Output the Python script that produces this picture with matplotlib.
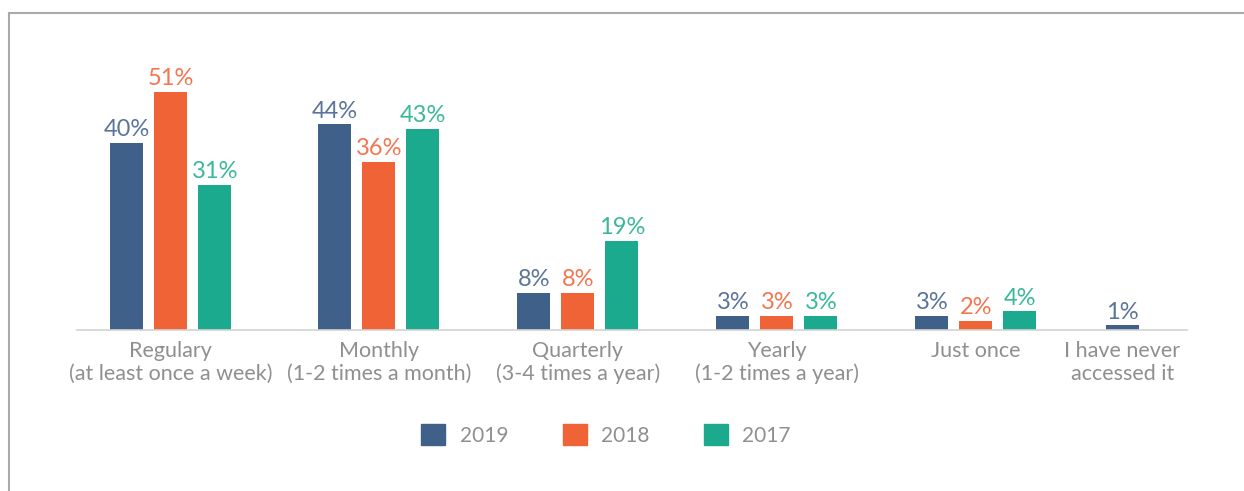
import matplotlib.pyplot as plt
import matplotlib.lines as mlines
import matplotlib.patches as mpatches

categories = ["Regulary\n(at least once a week)", "Monthly\n(1-2 times a month)",
              "Quarterly\n(3-4 times a year)", "Yearly\n(1-2 times a year)",
              "Just once", "I have never\naccessed it"]
years = ["2019", "2018", "2017"]
v2019 = [40, 44, 8, 3, 3, 1]
v2018 = [51, 36, 8, 3, 2, None]
v2017 = [31, 43, 19, 3, 4, None]

bar_colors = ["#3f6189", "#f06337", "#1baa8d"]
text_colors = ["#5a749a", "#f27650", "#3bb89c"]

plt.rcParams['font.family'] = ['Lato', 'DejaVu Sans']

fig = plt.figure(figsize=(12.44, 4.91), dpi=100)
ax = fig.add_axes([77 / 1244, 161 / 491, 1110 / 1244, 270 / 491])

# group centres (last group holds only one bar, centred)
centres = [0, 1.045, 2.045, 3.045, 4.045, 4.78]
w = 0.166
step = 0.221

series = [v2019, v2018, v2017]
for k, vals in enumerate(series):
    for i, v in enumerate(vals):
        if v is None:
            continue
        if i == len(vals) - 1:
            x = centres[i]
        else:
            x = centres[i] + (k - 1) * step
        ax.bar(x, v, width=w, color=bar_colors[k])
        ax.annotate(f"{v}%", (x, v), xytext=(0, 2), textcoords="offset points",
                    ha="center", va="bottom", fontsize=17, color=text_colors[k])

ax.set_xlim(-0.472, 5.106)
ax.set_ylim(0, 57.75)
ax.set_xticks(centres)
ax.set_xticklabels(categories, fontsize=15.5, color="#8f8f8f", linespacing=1.15)
ax.tick_params(axis="x", length=0, pad=8)
ax.set_yticks([])
for s in ["top", "right", "left"]:
    ax.spines[s].set_visible(False)
ax.spines["bottom"].set_color("#d3d3d3")
ax.spines["bottom"].set_linewidth(1.2)

handles = [mpatches.Patch(color=c, label=y) for c, y in zip(bar_colors, years)]
leg = fig.legend(handles=handles, loc="center", bbox_to_anchor=(606 / 1244, 1 - 435 / 491),
                 ncol=3, frameon=False, fontsize=15, handlelength=1.15, handleheight=1.15,
                 handletextpad=0.7, columnspacing=2.6)
for t in leg.get_texts():
    t.set_color("#8f8f8f")

# frame lines
fig.add_artist(mlines.Line2D([9 / 1244, 1], [1 - 13 / 491, 1 - 13 / 491],
                             color="#aaaaaa", linewidth=1.5))
fig.add_artist(mlines.Line2D([9 / 1244, 9 / 1244], [0, 1 - 13 / 491],
                             color="#aaaaaa", linewidth=1.5))

fig.savefig("out.png", dpi=100)
